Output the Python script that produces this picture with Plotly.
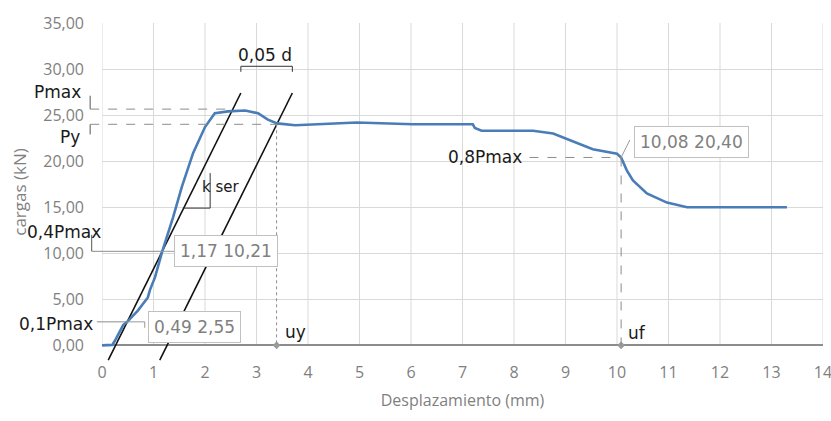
import plotly.graph_objects as go

# ---- data ----
disp = [0, 0.2, 0.25, 0.41, 0.49, 0.7, 0.89, 0.93, 1.03, 1.17, 1.38, 1.55, 1.77, 2.0, 2.19,
        2.45, 2.78, 3.03, 3.22, 3.40, 3.75, 4.1, 4.95, 6.04, 7.2, 7.24, 7.37, 8.0, 8.37,
        8.76, 9.15, 9.53, 10.0, 10.08, 10.19, 10.31, 10.58, 10.97, 11.36, 12.25, 13.3]
load = [0, 0.05, 0.5, 2.2, 2.55, 3.8, 5.2, 6.0, 7.4, 10.21, 13.9, 17.2, 20.9, 23.7, 25.2,
        25.4, 25.5, 25.2, 24.5, 24.1, 23.9, 24.0, 24.2, 24.0, 24.0, 23.6, 23.3, 23.3, 23.3,
        23.0, 22.1, 21.3, 20.8, 20.4, 19.0, 17.9, 16.5, 15.5, 15.0, 15.0, 15.0]

p01 = (0.49, 2.55)      # 0,1Pmax point
p04 = (1.17, 10.21)     # 0,4Pmax point
pf = (10.08, 20.40)     # 0,8Pmax point
pmax = 25.65
py_load = 24.0
uy = 3.39
offset_005d = 1.0
k_line_y = [-1.6, 27.4]
x_ticks = list(range(0, 15))
y_ticks = [0, 5, 10, 15, 20, 25, 30, 35]

k_ser = (p04[1] - p01[1]) / (p04[0] - p01[0])
def kx(y, shift=0.0):
    return p01[0] + (y - p01[1]) / k_ser + shift

X0, X1 = 0, 14
Y0, Y1 = -1.7, 35
def ypaper(y):
    return (y - Y0) / (Y1 - Y0)
def xpaper(x):
    return (x - X0) / (X1 - X0)

GRID = "#d9d9d9"
GREY_TXT = "#7f7f7f"
LINE_GREY = "#8c8c8c"

fig = go.Figure()

# k ser lines
for sh in (0.0, offset_005d):
    fig.add_trace(go.Scatter(x=[kx(k_line_y[0], sh), kx(k_line_y[1], sh)], y=k_line_y,
                             mode="lines", line=dict(color="#111111", width=1.6),
                             hoverinfo="skip", showlegend=False))

# main curve
fig.add_trace(go.Scatter(x=disp, y=load, mode="lines",
                         line=dict(color="#4a7db8", width=2.6),
                         showlegend=False))

# markers on axis
fig.add_trace(go.Scatter(x=[uy, pf[0]], y=[0, 0], mode="markers",
                         marker=dict(symbol="diamond", size=6, color="#9a9a9a"),
                         showlegend=False, cliponaxis=False))

shapes = []
# vertical gridlines from 0 to 35
for t in x_ticks:
    shapes.append(dict(type="line", xref="x", yref="y", x0=t, x1=t, y0=0, y1=35,
                       line=dict(color=GRID, width=1), layer="below"))

def seg(x0, y0, x1, y1, color=LINE_GREY, width=1, dash="dash"):
    shapes.append(dict(type="line", xref="paper", yref="paper",
                       x0=xpaper(x0), x1=xpaper(x1), y0=ypaper(y0), y1=ypaper(y1),
                       line=dict(color=color, width=width, dash=dash)))

bx = -0.23
# Pmax bracket and line
seg(bx, 27.1, bx, pmax, color="#555555", dash="solid")
seg(bx, pmax, 2.5, pmax)
# Py bracket and line
seg(bx, py_load, bx, 22.9, color="#555555", dash="solid")
seg(bx, py_load, uy, py_load)
# 0,4Pmax
seg(-0.2, 12.0, -0.2, p04[1], color="#555555", dash="solid")
seg(-0.2, p04[1], p04[0], p04[1], dash="solid")
# 0,1Pmax
seg(-0.1, p01[1], p01[0], p01[1], dash="solid")
# uy vertical
seg(uy, py_load, uy, 0, dash="dot")
# uf vertical and 0,8Pmax line
seg(pf[0], pf[1], pf[0], 0)
seg(8.3, pf[1], pf[0], pf[1])
# 0,05 d dimension
xa, xb = kx(k_line_y[1]), kx(k_line_y[1], offset_005d)
seg(xa, 30.3, xb, 30.3, color="#333333", dash="solid")
seg(xa, 30.3, xa, 29.7, color="#333333", dash="solid")
seg(xb, 30.3, xb, 29.7, color="#333333", dash="solid")
# k ser slope triangle
seg(kx(14.9), 14.9, 2.1, 14.9, color="#333333", dash="solid")
seg(2.1, 14.9, 2.1, 18.7, color="#333333", dash="solid")
# leaders to labels
seg(p04[0], p04[1], 1.42, p04[1], color="#999999", dash="solid")
seg(p01[0], p01[1], 0.83, p01[1], color="#999999", dash="solid")
seg(0.83, p01[1], 0.83, 1.9, color="#999999", dash="solid")
seg(pf[0], pf[1], 10.25, 22.3, color="#999999", dash="solid")

BLACK_FONT = dict(family="DejaVu Sans", size=17, color="#1a1a1a")
anns = []
def lab(text, x, y, font=BLACK_FONT, **kw):
    anns.append(dict(text=text, x=xpaper(x), y=ypaper(y), xref="paper", yref="paper",
                     xanchor="center", yanchor="middle",
                     showarrow=False, font=font, **kw))

lab("Pmax", -0.87, 27.5)
lab("Py", -0.62, 22.6)
lab("0,4Pmax", -0.74, 12.3)
lab("0,1Pmax", -0.89, 2.3)
lab("uy", 3.75, 1.4)
lab("uf", 10.39, 1.3)
lab("0,8Pmax", 7.44, 20.5)
lab("k ser", 2.31, 17.2, font=dict(family="DejaVu Sans", size=15, color="#1a1a1a"))
lab("0,05 d", 3.17, 31.5)

BOX_FONT = dict(family="DejaVu Sans", size=17, color="#808080")
def box(text, x, y):
    lab(text, x, y, font=BOX_FONT, bgcolor="white", bordercolor="#c0c0c0",
        borderwidth=1, borderpad=5)

box("1,17 10,21", 2.40, 10.27)
box("0,49 2,55", 1.79, 1.95)
box("10,08 20,40", 11.44, 22.1)

fig.update_layout(
    width=831, height=421,
    margin=dict(l=102, r=8, t=23, b=60),
    paper_bgcolor="white", plot_bgcolor="white",
    separators=",.",
    shapes=shapes, annotations=anns,
    xaxis=dict(range=[X0, X1], tickvals=x_ticks, showgrid=False, zeroline=False,
               showline=False, ticks="", ticklabeloverflow="allow", automargin=False,
               tickfont=dict(family="Open Sans", size=16, color=GREY_TXT),
               title=dict(text="Desplazamiento (mm)", standoff=12,
                          font=dict(family="Open Sans", size=16, color=GREY_TXT))),
    yaxis=dict(range=[Y0, Y1], tickvals=y_ticks, tickformat=".2f",
               showgrid=True, gridcolor=GRID, gridwidth=1, automargin=False,
               zeroline=True, zerolinecolor="#8c8c8c", zerolinewidth=1.5,
               showline=False, ticks="", ticklabelstandoff=17,
               tickfont=dict(family="Open Sans", size=16, color=GREY_TXT),
               title=dict(text="cargas (kN)", standoff=12,
                          font=dict(family="Open Sans", size=17, color=GREY_TXT))),
)

fig.write_html("out.html")
